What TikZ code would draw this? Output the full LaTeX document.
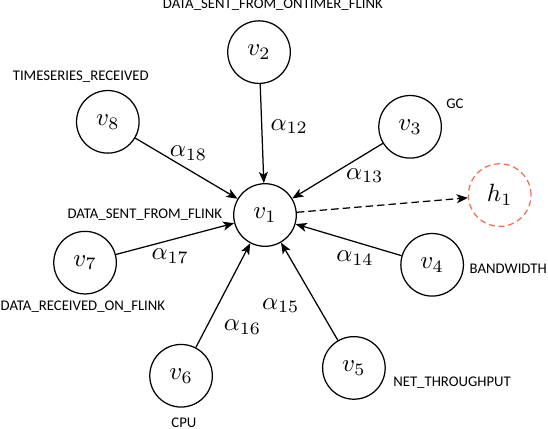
\documentclass[tikz,border=0pt]{standalone}
\usepackage{fontspec}
\newfontfamily\tagfont{Carlito}
\usetikzlibrary{arrows.meta}
\definecolor{hidcol}{RGB}{240,112,84}

\tikzset{
	var/.style={draw, circle, minimum size=0.88cm, inner sep=0pt, line width=0.5pt},
	hid/.style={var, draw=hidcol, dash pattern=on 2.4pt off 1.5pt},
	tag/.style={font=\tagfont\fontsize{5.9}{7}\selectfont, inner sep=0pt},
	edg/.style={line width=0.5pt, -{Stealth[length=4.5pt, width=3.6pt, inset=1.2pt]}},
}

\begin{document}
\begin{tikzpicture}
	\useasboundingbox (-3.726,-2.995) rectangle (3.979,3.023);

	\node[var] (v1) at (0,0) {$v_1$};
	\node[var] (v2) at (-0.084,2.29) {$v_2$};
	\node[var] (v3) at (2.04,1.24) {$v_3$};
	\node[var] (v4) at (2.35,-0.70) {$v_4$};
	\node[var] (v5) at (1.25,-2.15) {$v_5$};
	\node[var] (v6) at (-1.18,-2.26) {$v_6$};
	\node[var] (v7) at (-2.53,-0.67) {$v_7$};
	\node[var] (v8) at (-2.21,1.31) {$v_8$};

	\node[hid] (h1) at (3.30,0.28) {$h_1$};

	% metric names
	\node[tag] (n1) at (-1.69,0) {DATA\_SENT\_FROM\_FLINK};
	\node[tag] (n2) at (0.11,2.95) {DATA\_SENT\_FROM\_ONTIMER\_FLINK};
	\node[tag] (n3) at (2.67,1.57) {GC};
	\node[tag] (n4) at (3.42,-0.76) {BANDWIDTH};
	\node[tag] (n5) at (2.63,-2.36) {NET\_THROUGHPUT};
	\node[tag] (n6) at (-1.14,-2.92) {CPU};
	\node[tag] (n7) at (-2.56,-1.29) {DATA\_RECEIVED\_ON\_FLINK};
	\node[tag] (n8) at (-2.59,1.94) {TIMESERIES\_RECEIVED};

	\draw[edg] (v2) to node[right, pos=0.43] {$\alpha_{12}$} (v1);
	\draw[edg] (v3) to node[below=2pt, pos=0.2] {$\alpha_{13}$} (v1);
	\draw[edg] (v4) to node[below, pos=0.44] {$\alpha_{14}$} (v1);
	\draw[edg] (v5) to node[below left, pos=0.52] {$\alpha_{15}$} (v1);
	\draw[edg] (v6) to node[below right, pos=0.35] {$\alpha_{16}$} (v1);
	\draw[edg] (v7) to node[below, pos=0.46] {$\alpha_{17}$} (v1);
	\draw[edg] (v8) to node[above, pos=0.52] {$\alpha_{18}$} (v1);

	\draw[edg, dash pattern=on 3pt off 1.6pt] (v1) to (h1);
\end{tikzpicture}
\end{document}
